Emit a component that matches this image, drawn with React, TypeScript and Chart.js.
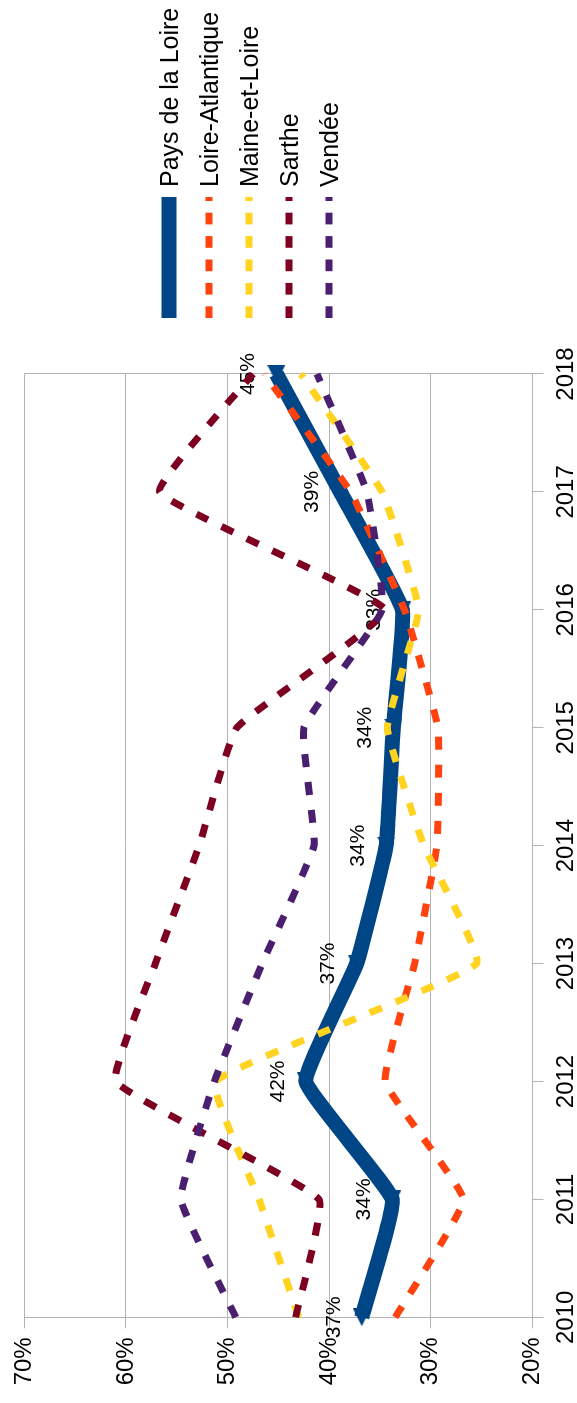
import React, { useEffect, useRef } from 'react';
import { Chart, registerables } from 'chart.js';

Chart.register(...registerables);

// ---- Data ----
const years = ['2010', '2011', '2012', '2013', '2014', '2015', '2016', '2017', '2018'];
const paysDeLaLoire = [36.8, 33.8, 42.3, 37.3, 34.4, 33.7, 32.8, 38.9, 45.2];
const loireAtlantique = [33.5, 26.8, 34.5, 31.6, 29.4, 29.3, 32.6, 37.9, 46.4];
const maineEtLoire = [43.0, 46.9, 51.2, 25.5, 30.7, 34.3, 31.2, 34.8, 42.8];
const sarthe = [43.3, 41.0, 61.0, 57.1, 52.8, 49.1, 34.5, 56.7, 47.5];
const vendee = [49.2, 54.6, 51.3, 46.6, 41.5, 42.5, 34.8, 36.3, 41.2];
const seriesNames = ['Pays de la Loire', 'Loire-Atlantique', 'Maine-et-Loire', 'Sarthe', 'Vendée'];
const seriesColors = ['#004586', '#ff420e', '#ffd320', '#7e0021', '#4b1f6f'];
const valueMin = 20;
const valueMax = 70;
const valueStep = 10;

const FONT = "'Liberation Sans', Arial, sans-serif";
const GRID = '#b3b3b3';
const W = 1403;
const H = 577;

function makeTriangle(color: string) {
  const c = document.createElement('canvas');
  c.width = 18;
  c.height = 18;
  const g = c.getContext('2d')!;
  g.fillStyle = color;
  g.beginPath();
  g.moveTo(0, 9);
  g.lineTo(18, 0);
  g.lineTo(18, 18);
  g.closePath();
  g.fill();
  return c;
}

const legendPlugin = {
  id: 'customLegend',
  afterDraw(chart: any) {
    const ctx = chart.ctx;
    ctx.save();
    chart.data.datasets.forEach((ds: any, i: number) => {
      const y = 169 + i * 40;
      ctx.beginPath();
      ctx.strokeStyle = ds.borderColor;
      ctx.lineWidth = i === 0 ? 15 : 7;
      ctx.lineCap = 'butt';
      ctx.setLineDash(i === 0 ? [] : [11.7, 11.7]);
      ctx.moveTo(1085, y);
      ctx.lineTo(1206, y);
      ctx.stroke();
      ctx.setLineDash([]);
      ctx.fillStyle = '#000';
      ctx.font = `25px ${FONT}`;
      ctx.textAlign = 'left';
      ctx.textBaseline = 'alphabetic';
      ctx.fillText(ds.label, 1216, y + 9);
    });
    ctx.restore();
  },
};

const dataLabelPlugin = {
  id: 'dataLabels',
  afterDatasetDraw(chart: any, args: any) {
    if (args.index !== 0) return;
    const ctx = chart.ctx;
    const meta = args.meta;
    const data = chart.data.datasets[0].data as number[];
    ctx.save();
    ctx.fillStyle = '#000';
    ctx.font = `21px ${FONT}`;
    ctx.textAlign = 'center';
    ctx.textBaseline = 'middle';
    meta.data.forEach((pt: any, i: number) => {
      ctx.fillText(Math.round(data[i]) + '%', pt.x, pt.y - 28);
    });
    ctx.restore();
  },
};

export default function App() {
  const ref = useRef<HTMLCanvasElement | null>(null);

  useEffect(() => {
    if (!ref.current) return;
    const tri = makeTriangle(seriesColors[0]);
    const allSeries = [paysDeLaLoire, loireAtlantique, maineEtLoire, sarthe, vendee];
    const datasets = allSeries.map((d, i) => ({
      label: seriesNames[i],
      data: d,
      borderColor: seriesColors[i],
      backgroundColor: seriesColors[i],
      borderWidth: i === 0 ? 15 : 7,
      borderDash: i === 0 ? [] : [13, 15],
      borderCapStyle: 'butt' as const,
      tension: 0.1,
      fill: false,
      pointStyle: i === 0 ? (tri as any) : 'circle',
      pointRadius: i === 0 ? 9 : 0,
      pointBorderWidth: 0,
      order: 4 - i,
      clip: false as any,
    }));

    const chart = new Chart(ref.current, {
      type: 'line',
      data: { labels: years, datasets },
      options: {
        animation: false,
        responsive: false,
        devicePixelRatio: 1,
        layout: { padding: { top: 24.3, right: 374, bottom: 0, left: 0 } },
        plugins: { legend: { display: false }, tooltip: { enabled: false } },
        scales: {
          x: {
            type: 'category',
            offset: false,
            grid: {
              color: (c: any) => (c.index === years.length - 1 ? GRID : 'rgba(0,0,0,0)'),
              tickColor: GRID,
              tickLength: 11,
              lineWidth: 1,
            },
            border: { color: GRID, width: 1 },
            ticks: {
              color: '#000',
              font: { family: FONT, size: 24 },
              padding: 8,
              maxRotation: 0,
              autoSkip: false,
            },
            afterFit: (s: any) => {
              s.height = 44.5;
            },
          },
          y: {
            min: valueMin,
            max: valueMax,
            grid: { color: GRID, tickColor: GRID, tickLength: 11, lineWidth: 1 },
            border: { color: GRID, width: 1 },
            ticks: {
              stepSize: valueStep,
              color: '#000',
              font: { family: FONT, size: 24 },
              padding: 9,
              callback: (v: any) => v + '%',
            },
            afterFit: (s: any) => {
              s.width = 85.7;
            },
          },
        },
      },
      plugins: [legendPlugin, dataLabelPlugin],
    });
    return () => chart.destroy();
  }, []);

  return (
    <div
      style={{
        position: 'absolute',
        left: 0,
        top: 0,
        width: W,
        height: H,
        transformOrigin: '0 0',
        transform: `translateY(${W}px) rotate(-90deg)`,
        background: '#fff',
      }}
    >
      <canvas ref={ref} width={W} height={H} style={{ display: 'block', width: W, height: H }} />
    </div>
  );
}
